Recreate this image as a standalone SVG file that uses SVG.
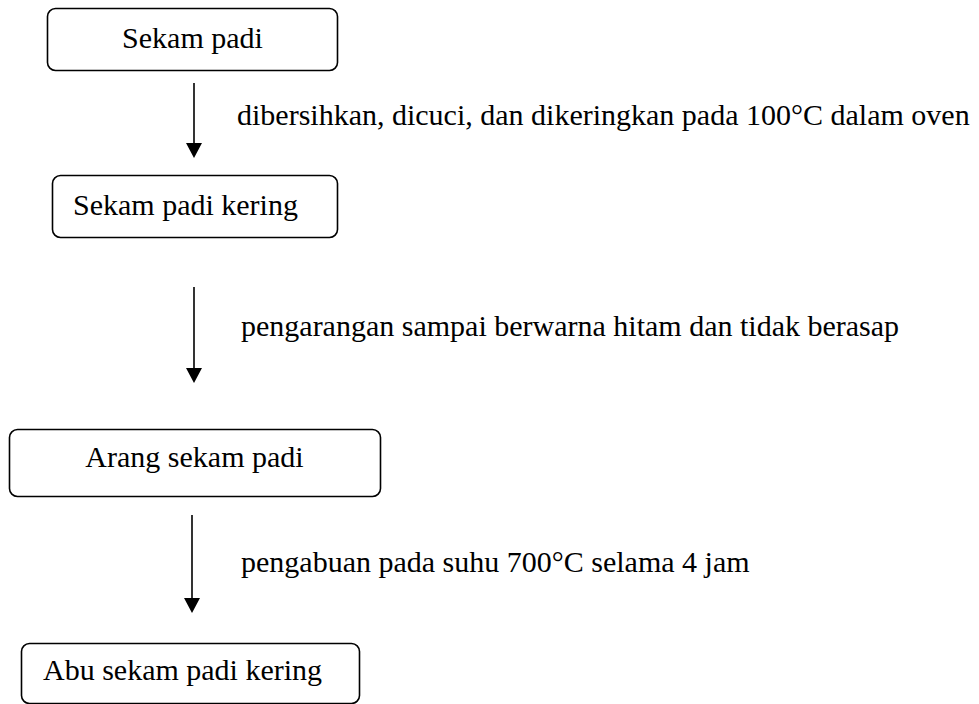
<svg xmlns="http://www.w3.org/2000/svg" width="979" height="704" viewBox="0 0 979 704">
<defs>
<style>
.box{fill:#fff;stroke:#000;stroke-width:1.6}
.t{font-family:"Liberation Serif","Times New Roman",serif;font-size:30px;fill:#000}
.c{stroke:#000;stroke-width:1.6;fill:none}
</style>
</defs>
<rect width="979" height="704" fill="#fff"/>
<g id="n1"><rect class="box" x="47.5" y="8.5" width="290" height="62" rx="8"/><text class="t" x="192.5" y="48" text-anchor="middle">Sekam padi</text></g>
<g id="n2"><rect class="box" x="52.5" y="175.5" width="285" height="62" rx="8"/><text class="t" x="73" y="215">Sekam padi kering</text></g>
<g id="n3"><rect class="box" x="9.5" y="429.5" width="371" height="67" rx="8"/><text class="t" x="194.5" y="467" text-anchor="middle">Arang sekam padi</text></g>
<g id="n4"><rect class="box" x="21.5" y="643.5" width="338" height="60" rx="8"/><text class="t" x="43" y="680">Abu sekam padi kering</text></g>
<g id="connectors">
<line class="c" x1="194" y1="83" x2="194" y2="144"/>
<path d="M186,143 L202,143 L194,158 Z"/>
<line class="c" x1="194" y1="287" x2="194" y2="369"/>
<path d="M186,368 L202,368 L194,383 Z"/>
<line class="c" x1="192" y1="515" x2="192" y2="599"/>
<path d="M184,598 L200,598 L192,613 Z"/>
</g>
<g id="labels">
<text class="t" x="237" y="125">dibersihkan, dicuci, dan dikeringkan pada 100°C dalam oven</text>
<text class="t" x="241" y="336">pengarangan sampai berwarna hitam dan tidak berasap</text>
<text class="t" x="241" y="572">pengabuan pada suhu 700°C selama 4 jam</text>
</g>
</svg>
